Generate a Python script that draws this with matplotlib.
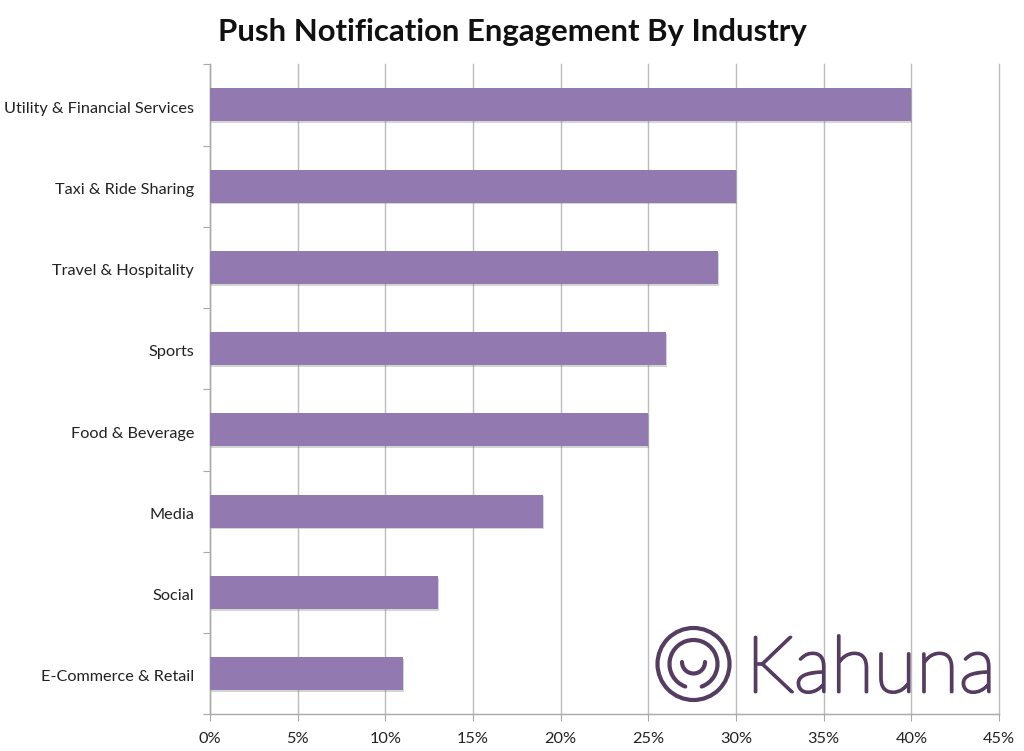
import matplotlib
matplotlib.use("Agg")
import matplotlib.pyplot as plt
import matplotlib.patheffects as pe
from matplotlib.patches import Arc, Circle
from matplotlib.transforms import ScaledTranslation

categories = ["Utility & Financial Services", "Taxi & Ride Sharing", "Travel & Hospitality",
              "Sports", "Food & Beverage", "Media", "Social", "E-Commerce & Retail"]
values = [40, 30, 29, 26, 25, 19, 13, 11]
xticks = [0, 5, 10, 15, 20, 25, 30, 35, 40, 45]
title = "Push Notification Engagement By Industry"

W, H = 1024, 751
plt.rcParams['font.family'] = ['Lato', 'DejaVu Sans']
fig = plt.figure(figsize=(W / 100, H / 100), dpi=100, facecolor='white')
ax = fig.add_axes([210 / W, 1 - 714.3 / H, (999 - 210) / W, (714 - 64) / H])

pos = list(range(len(categories)))
bars = ax.barh(pos, values, height=0.405, color='#9279B0', zorder=3)
for b in bars:
    b.set_path_effects([pe.SimplePatchShadow(offset=(0.5, -1.2), shadow_rgbFace='#777777', alpha=0.3), pe.Normal()])

ax.set_xlim(0, 45)
ax.set_ylim(len(categories) - 0.5, -0.5)
ax.set_xticks(xticks)
ax.set_xticklabels([f"{t}%" for t in xticks], fontsize=11.7, color='#222222')
ax.set_yticks(pos)
ax.set_yticklabels(categories, fontsize=11.7, color='#222222')
ax.set_yticks([p - 0.5 for p in pos] + [len(pos) - 0.5], minor=True)
ax.tick_params(axis='y', which='major', length=0, pad=11.5)
ax.tick_params(axis='y', which='minor', length=5, width=0.8, color='#a8a8a8')
ax.tick_params(axis='x', length=5, width=0.8, color='#a8a8a8', pad=7.5)
ax.grid(axis='x', color='#bcbcbc', linewidth=1.0, zorder=0)
for g in ax.get_xgridlines():
    g.set_clip_on(False)
ax.set_axisbelow(True)
shift = ScaledTranslation(0, -1.5 / 72, fig.dpi_scale_trans)
for tick in ax.yaxis.get_major_ticks():
    tick.label1.set_transform(tick.label1.get_transform() + shift)
for s in ['top', 'right']:
    ax.spines[s].set_visible(False)
for s in ['left', 'bottom']:
    ax.spines[s].set_color('#a8a8a8')
    ax.spines[s].set_linewidth(1.0)

fig.text(512 / W, 1 - 32.5 / H, title, ha='center', va='center', fontsize=22.4,
         fontweight='bold', color='#111111', family=['Lato', 'DejaVu Sans'])

# logo, drawn in pixel coordinates of the figure
ov = fig.add_axes([0, 0, 1, 1], facecolor='none')
ov.set_xlim(0, W)
ov.set_ylim(H, 0)
ov.axis('off')
ink = '#553D62'
cx, cy = 693.5, 664
lw = 3.0
ov.add_patch(Circle((cx, cy), 36, fill=False, ec=ink, lw=lw))
ov.add_patch(Arc((cx, cy), 48, 48, theta1=110, theta2=70, ec=ink, lw=lw, capstyle='round'))
ov.add_patch(Arc((cx, cy - 2), 23, 23, theta1=0, theta2=180, ec=ink, lw=lw, capstyle='round'))
ov.text(746, 692, "Kahuna", fontsize=56.5, color=ink, ha='left', va='baseline',
        family=['Lato', 'DejaVu Sans'], fontweight='light',
        path_effects=[pe.withStroke(linewidth=2.0, foreground=ink, capstyle='round', joinstyle='round')])

fig.savefig("out.png", dpi=100)
